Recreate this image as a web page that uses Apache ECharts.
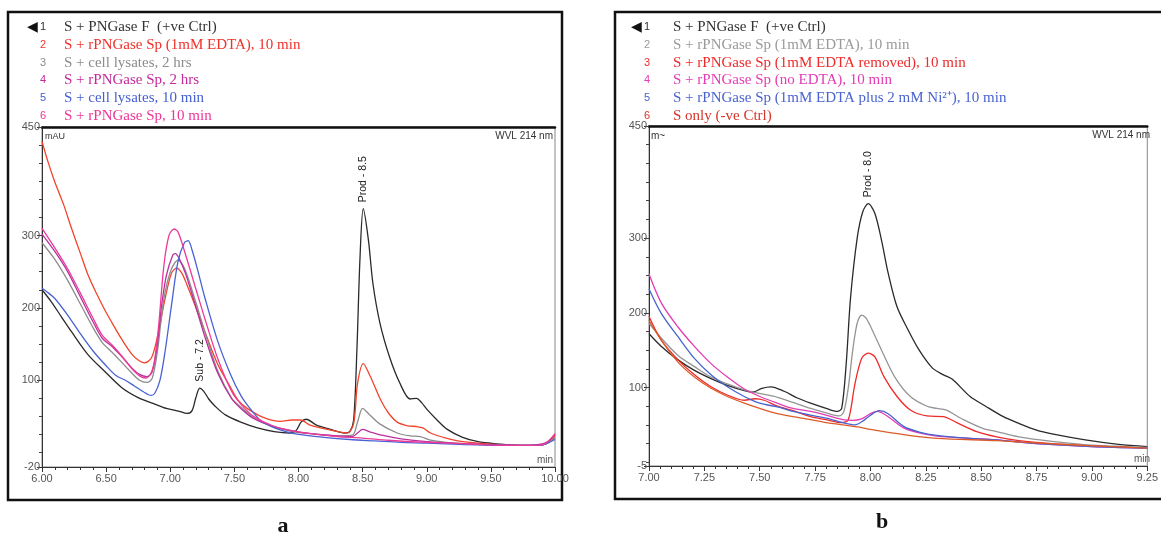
<!DOCTYPE html>
<html><head><meta charset="utf-8">
<script src="https://cdn.jsdelivr.net/npm/echarts@6/dist/echarts.min.js"></script>
<style>html,body{margin:0;padding:0;background:#fff}#c{width:1161px;height:539px}</style>
</head><body><div id="c"></div>
<script>
// ---------------- DATA ----------------
const legendA = ['S + PNGase F  (+ve Ctrl)','S + rPNGase Sp (1mM EDTA), 10 min','S + cell lysates, 2 hrs','S + rPNGase Sp, 2 hrs','S + cell lysates, 10 min','S + rPNGase Sp, 10 min'];
const legendB = ['S + PNGase F  (+ve Ctrl)','S + rPNGase Sp (1mM EDTA), 10 min','S + rPNGase Sp (1mM EDTA removed), 10 min','S + rPNGase Sp (no EDTA), 10 min','S + rPNGase Sp (1mM EDTA plus 2 mM Ni²⁺), 10 min','S only (-ve Ctrl)'];
const yLabelsA = [-20,100,200,300,450];
const yLabelsB = [-5,100,200,300,450];
const yMinorTicks = [0,25,50,75,100,125,150,175,200,225,250,275,300,325,350,375,400,425,450];
const peaksA = [{t:7.23,v:89,text:'Sub - 7.2'},{t:8.505,v:337,text:'Prod - 8.5'}];
const peaksB = [{t:7.99,v:346,text:'Prod - 8.0'}];

const a1 = [[6.00,225],[6.07,209],[6.15,188],[6.23,167],[6.36,135],[6.49,112],[6.62,90],[6.75,76],[6.88,67],[6.97,61],[7.07,57],[7.13,54],[7.17,58],[7.20,76],[7.23,89],[7.26,85],[7.30,74],[7.35,64],[7.43,52],[7.55,42],[7.68,34],[7.81,29],[7.93,27],[7.98,30],[8.02,42],[8.06,46],[8.14,38],[8.25,32],[8.36,27],[8.40,29],[8.43,45],[8.455,140],[8.48,271],[8.505,337],[8.545,294],[8.58,234],[8.635,179],[8.71,132],[8.79,96],[8.87,74],[8.92,75],[8.96,69],[9.00,60],[9.08,45],[9.16,32],[9.28,21],[9.40,15],[9.55,12],[9.70,10],[9.88,10],[9.94,13],[10.00,20]];
const a2 = [[6.00,430],[6.05,400],[6.10,374],[6.17,342],[6.23,310],[6.30,275],[6.36,245],[6.43,218],[6.49,197],[6.56,175],[6.62,157],[6.70,136],[6.75,128],[6.80,124],[6.85,130],[6.88,145],[6.91,168],[6.96,213],[7.01,248],[7.05,255],[7.09,248],[7.13,232],[7.19,205],[7.27,167],[7.37,122],[7.47,90],[7.53,72],[7.60,61],[7.72,49],[7.86,43],[7.95,45],[8.02,45],[8.09,38],[8.25,31],[8.38,27],[8.43,40],[8.46,95],[8.505,123],[8.56,105],[8.64,73],[8.70,55],[8.77,42],[8.85,37],[8.92,36],[8.97,34],[9.03,27],[9.15,20],[9.28,15],[9.55,11],[9.80,10],[9.88,10],[9.94,14],[10.00,23]];
const a3 = [[6.00,290],[6.10,267],[6.20,238],[6.30,205],[6.40,172],[6.47,152],[6.55,138],[6.62,125],[6.70,110],[6.76,100],[6.82,97],[6.86,103],[6.90,140],[6.93,185],[6.96,222],[7.01,254],[7.06,266],[7.11,255],[7.19,213],[7.27,167],[7.37,113],[7.48,75],[7.55,63],[7.65,48],[7.80,36],[7.95,29],[8.10,26],[8.30,23],[8.42,24],[8.46,42],[8.50,61],[8.55,53],[8.63,40],[8.77,27],[8.87,23],[8.95,22],[9.03,17],[9.15,14],[9.30,12],[9.60,10],[9.86,10],[9.93,12],[10.00,20]];
const a4 = [[6.00,302],[6.10,278],[6.20,250],[6.30,215],[6.40,180],[6.47,158],[6.55,146],[6.62,133],[6.70,117],[6.76,108],[6.82,105],[6.86,112],[6.90,150],[6.93,200],[6.97,245],[7.02,273],[7.04,275],[7.07,268],[7.12,247],[7.19,207],[7.27,160],[7.37,110],[7.48,74],[7.55,61],[7.65,47],[7.80,36],[7.95,30],[8.10,26],[8.30,23],[8.42,22],[8.46,27],[8.50,32],[8.55,29],[8.65,24],[8.80,19],[9.00,15],[9.20,13],[9.50,11],[9.80,10],[9.90,12],[9.95,16],[10.00,25]];
const a5 = [[6.00,227],[6.04,222],[6.10,213],[6.20,190],[6.30,164],[6.40,140],[6.50,120],[6.58,106],[6.65,100],[6.72,92],[6.79,84],[6.85,79],[6.88,82],[6.92,100],[6.96,140],[7.01,204],[7.06,264],[7.11,290],[7.14,293],[7.17,280],[7.22,248],[7.27,214],[7.37,154],[7.47,108],[7.55,79],[7.60,66],[7.70,45],[7.80,35],[7.90,29],[8.00,25],[8.20,21],[8.40,18],[8.60,16],[8.80,14],[9.00,13],[9.30,11],[9.60,10],[9.86,10],[9.93,12],[10.00,18]];
const a6 = [[6.00,310],[6.10,283],[6.20,254],[6.30,220],[6.40,185],[6.47,162],[6.55,148],[6.62,134],[6.70,116],[6.76,106],[6.81,103],[6.85,110],[6.88,130],[6.91,176],[6.95,258],[6.99,300],[7.03,309],[7.06,305],[7.11,279],[7.19,232],[7.27,185],[7.37,130],[7.48,84],[7.55,67],[7.65,50],[7.80,37],[7.95,30],[8.10,26],[8.30,22],[8.50,20],[8.70,17],[9.00,14],[9.30,12],[9.60,10],[9.85,10],[9.93,13],[10.00,26]];

const b1 = [[7.00,172],[7.056,155],[7.131,137],[7.205,123],[7.28,112],[7.354,103],[7.43,96],[7.47,94],[7.51,99],[7.55,101],[7.61,95],[7.67,86],[7.73,79],[7.80,72],[7.85,68],[7.87,72],[7.89,130],[7.91,220],[7.94,300],[7.965,335],[7.99,346],[8.02,333],[8.05,297],[8.08,253],[8.12,208],[8.17,177],[8.22,150],[8.28,126],[8.33,117],[8.37,111],[8.45,88],[8.52,75],[8.60,61],[8.67,52],[8.75,43],[8.82,38],[8.97,30],[9.12,24],[9.25,21]];
const b2 = [[7.00,186],[7.056,166],[7.131,143],[7.205,128],[7.28,114],[7.354,105],[7.43,97],[7.47,94],[7.52,91],[7.58,87],[7.65,80],[7.73,72],[7.80,66],[7.86,62],[7.88,68],[7.90,100],[7.92,150],[7.94,186],[7.96,197],[7.98,193],[8.00,182],[8.05,150],[8.11,114],[8.18,88],[8.255,75],[8.30,72],[8.34,70],[8.42,57],[8.51,45],[8.57,41],[8.67,34],[8.82,28],[9.00,23],[9.25,20]];
const b3 = [[7.00,195],[7.056,163],[7.131,137],[7.205,117],[7.28,101],[7.354,90],[7.43,83],[7.48,85],[7.52,83],[7.58,75],[7.65,69],[7.73,61],[7.80,57],[7.87,53],[7.90,57],[7.93,105],[7.96,139],[7.99,146],[8.02,141],[8.06,115],[8.12,88],[8.18,70],[8.255,62],[8.33,61],[8.39,53],[8.48,41],[8.57,34],[8.67,29],[8.82,25],[9.00,22],[9.25,19]];
const b4 = [[7.00,252],[7.056,213],[7.131,181],[7.205,155],[7.28,132],[7.354,114],[7.43,98],[7.50,88],[7.58,79],[7.65,72],[7.73,68],[7.80,63],[7.875,57],[7.92,56],[7.96,58],[8.00,65],[8.03,68],[8.08,61],[8.15,46],[8.225,39],[8.30,35],[8.45,32],[8.57,30],[8.75,25],[9.00,21],[9.25,19]];
const b5 = [[7.00,232],[7.056,199],[7.131,168],[7.205,139],[7.28,117],[7.354,101],[7.43,88],[7.50,79],[7.58,74],[7.65,68],[7.73,63],[7.80,59],[7.875,53],[7.93,50],[7.97,56],[8.00,63],[8.04,69],[8.08,65],[8.15,48],[8.225,40],[8.30,36],[8.45,32],[8.57,30],[8.75,25],[9.00,21],[9.25,19]];
const b6 = [[7.00,190],[7.056,163],[7.131,134],[7.205,114],[7.28,99],[7.354,88],[7.43,79],[7.50,72],[7.58,65],[7.65,61],[7.73,57],[7.80,53],[7.875,50],[7.95,47],[8.00,44],[8.15,37],[8.30,32],[8.57,29],[8.80,25],[9.00,22],[9.25,19]];

// ---------------- STYLES ----------------
const lineColA = ['#2a2a2a','#f2442a','#8c8c8c','#b8309e','#4862d4','#ef3a98'];
const textColA = ['#333333','#f0302a','#8c8c8c','#c42a9c','#4560d2','#ee3595'];
const lineColB = ['#2a2a2a','#959595','#ee2b2b','#e33cb4','#4763d0','#dc5c28'];
const textColB = ['#333333','#9a9a9a','#ee2b2b','#e33cb4','#4a63cf','#d5352a'];

const chart = echarts.init(document.getElementById('c'), null, {renderer:'canvas'});
const axFont = '"Liberation Sans", Arial, sans-serif';

function xBottom(gi, min, max, interval){
  return {type:'value', gridIndex:gi, position:'bottom', min, max, interval,
    axisLine:{show:true, onZero:false, lineStyle:{color:'#333', width:1}},
    axisTick:{show:true, inside:false, length:5, lineStyle:{color:'#333'}},
    minorTick:{show:true, splitNumber:5, length:3, lineStyle:{color:'#333'}},
    axisLabel:{show:true, margin:6, color:'#555', fontSize:11, fontFamily:axFont, formatter:v=>v.toFixed(2)},
    splitLine:{show:false}, minorSplitLine:{show:false}};
}
function xTop(gi, min, max){
  return {type:'value', gridIndex:gi, position:'top', min, max,
    axisLine:{show:true, onZero:false, lineStyle:{color:'#111', width:2.5}},
    axisTick:{show:false}, axisLabel:{show:false}, splitLine:{show:false}};
}
function yMain(gi, min, labels){
  return {type:'value', gridIndex:gi, position:'left', min, max:450,
    axisLine:{show:true, onZero:false, lineStyle:{color:'#333', width:1}},
    axisTick:{show:true, length:5, customValues:labels, lineStyle:{color:'#333'}},
    axisLabel:{show:true, margin:2, color:'#555', fontSize:11, fontFamily:axFont, customValues:labels},
    splitLine:{show:false}};
}
function yMinor(gi, min){
  return {type:'value', gridIndex:gi, position:'left', min, max:450,
    axisLine:{show:false}, axisLabel:{show:false},
    axisTick:{show:true, length:3, customValues:yMinorTicks, lineStyle:{color:'#444'}},
    splitLine:{show:false}};
}

function mk(name, data, color, xi, yi, peaks){
  const s = {type:'line', name, data, xAxisIndex:xi, yAxisIndex:yi, showSymbol:false, symbol:'none',
    smooth:0.3, lineStyle:{color, width:1.3}, itemStyle:{color}, animation:false};
  if(peaks){
    s.markPoint = {symbol:'circle', symbolSize:1, itemStyle:{color:'rgba(0,0,0,0)'}, animation:false,
      data: peaks.map(p=>({coord:[p.t,p.v], value:p.text})),
      label:{show:true, formatter:p=>p.value, rotate:90, position:'top', distance:6, align:'left', verticalAlign:'middle',
        color:'#222', fontSize:10.5, fontFamily:'"Liberation Sans", sans-serif'}};
  }
  return s;
}

const seriesA = [a1,a2,a3,a4,a5,a6];
const seriesB = [b1,b2,b3,b4,b5,b6];
const series = [];
seriesA.forEach((d,i)=>series.push(mk('A'+(i+1), d, lineColA[i], 0, 0, i===0?peaksA:null)));
seriesB.forEach((d,i)=>series.push(mk('B'+(i+1), d, lineColB[i], 2, 2, i===0?peaksB:null)));

// legend & decorations as text
const graphic = [];
graphic.push({type:'rect', shape:{x:8,y:12,width:554,height:488}, style:{fill:'none', stroke:'#111', lineWidth:2.5}, z:-1});
graphic.push({type:'rect', shape:{x:615,y:12,width:560,height:487}, style:{fill:'none', stroke:'#111', lineWidth:2.5}, z:-1});
function legendBlock(list, cols, xArrow, xNum, xText){
  graphic.push({type:'text', x:xArrow, y:27, style:{text:'◀', fill:'#111', font:'14px "DejaVu Sans"', align:'left', verticalAlign:'middle', textAlign:'left', textVerticalAlign:'middle'}});
  list.forEach((t,i)=>{
    const y = 27 + i*17.8;
    graphic.push({type:'text', x:xNum, y, style:{text:String(i+1), fill:cols[i], font:'11px "Liberation Sans", sans-serif', align:'left', verticalAlign:'middle', textAlign:'left', textVerticalAlign:'middle'}});
    graphic.push({type:'text', x:xText, y, style:{text:t, fill:cols[i], font:'15px "Liberation Serif", serif', align:'left', verticalAlign:'middle', textAlign:'left', textVerticalAlign:'middle'}});
  });
}
legendBlock(legendA, textColA, 27, 40, 64);
legendBlock(legendB, textColB, 631, 644, 673);
function txt(x,y,text,font,align,color){
  graphic.push({type:'text', x, y, style:{text, fill:color||'#333', font, align, verticalAlign:'middle', textAlign:align, textVerticalAlign:'middle'}});
}
txt(553,136,'WVL 214 nm','10px "Liberation Sans", sans-serif','right');
txt(1150,135,'WVL 214 nm','10px "Liberation Sans", sans-serif','right');
txt(45,137,'mAU','9px "Liberation Sans", sans-serif','left');
txt(651,136,'m~','10px "Liberation Sans", sans-serif','left');
txt(553,460,'min','10px "Liberation Sans", sans-serif','right','#555');
txt(1150,459,'min','10px "Liberation Sans", sans-serif','right','#555');
txt(283,526,'a','bold 22px "Liberation Serif", serif','center','#111');
txt(882,522,'b','bold 22px "Liberation Serif", serif','center','#111');

chart.setOption({
  animation:false,
  backgroundColor:'#fff',
  textStyle:{fontFamily:'"Liberation Sans", sans-serif'},
  grid:[
    {left:42, top:127, width:513, height:340, show:true, borderColor:'#888', borderWidth:1, containLabel:false},
    {left:649, top:126, width:504, height:340, show:true, borderColor:'#888', borderWidth:1, containLabel:false}
  ],
  xAxis:[xBottom(0,6,10,0.5), xTop(0,6,10), xBottom(1,7,9.25,0.25), xTop(1,7,9.25)],
  yAxis:[yMain(0,-20,yLabelsA), yMinor(0,-20), yMain(1,-5,yLabelsB), yMinor(1,-5)],
  series,
  graphic
});
</script>
</body></html>
